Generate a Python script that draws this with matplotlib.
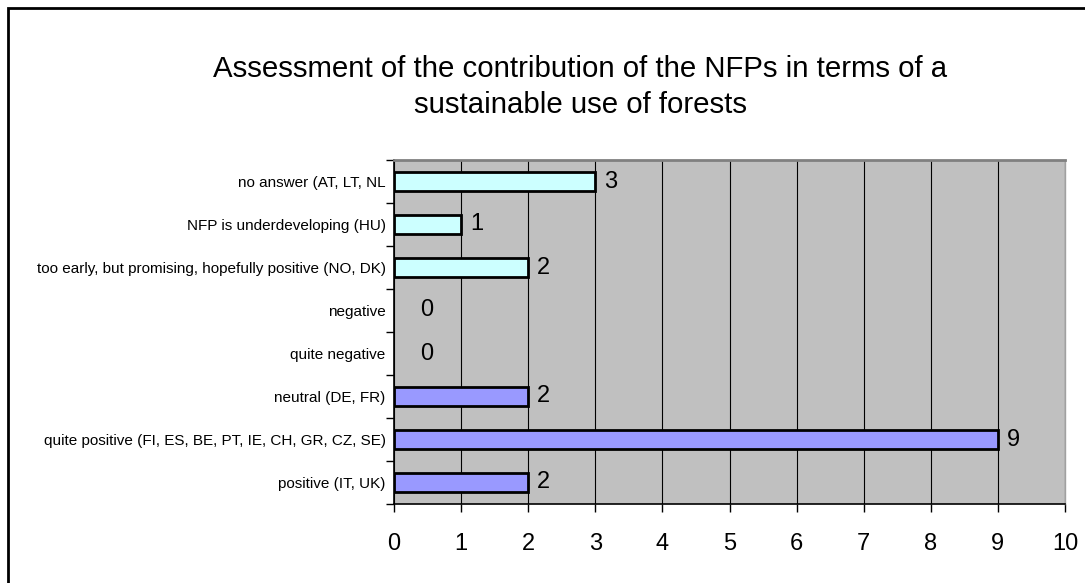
import matplotlib
matplotlib.use("Agg")
import matplotlib.pyplot as plt
from matplotlib.patches import Rectangle

plt.rcParams['font.family'] = ['Liberation Sans', 'DejaVu Sans']

categories = [
    "positive (IT, UK)",
    "quite positive (FI, ES, BE, PT, IE, CH, GR, CZ, SE)",
    "neutral (DE, FR)",
    "quite negative",
    "negative",
    "too early, but promising, hopefully positive (NO, DK)",
    "NFP is underdeveloping (HU)",
    "no answer (AT, LT, NL",
]
counts = [2, 9, 2, 0, 0, 2, 1, 3]
bar_colors = ["#9999FF", "#9999FF", "#9999FF", "#9999FF", "#9999FF",
              "#CCFFFF", "#CCFFFF", "#CCFFFF"]
x_ticks = list(range(0, 11))
title = "Assessment of the contribution of the NFPs in terms of a\nsustainable use of forests"

W, H = 1085, 583
fig = plt.figure(figsize=(W / 100, H / 100), dpi=100)
fig.patch.set_facecolor("white")

# outer chart frame
fig.add_artist(Rectangle((8 / W, -0.05), 1.2, 1 - 8 / H + 0.05,
                         transform=fig.transFigure, fill=False,
                         edgecolor="black", linewidth=2))

ax = fig.add_axes([394 / W, 79 / H, (1065 - 394) / W, (504 - 160) / H])
ax.set_facecolor("#C0C0C0")

ypos = list(range(len(categories)))
ax.barh(ypos, counts, height=0.42, color=bar_colors, edgecolor="black",
        linewidth=[2 if v else 0 for v in counts], zorder=3)

for y, v in zip(ypos, counts):
    off = 9 if v else 26
    ax.annotate(str(v), xy=(v, y), xytext=(off, 0), textcoords="offset pixels",
                ha="left", va="center", fontsize=17, zorder=4)

ax.set_xlim(0, 10)
ax.set_ylim(-0.5, len(categories) - 0.5)
ax.set_xticks(x_ticks)
ax.set_xticklabels([str(t) for t in x_ticks], fontsize=17)
ax.xaxis.grid(True, color="black", linewidth=0.8, zorder=1)
ax.set_axisbelow(True)

ax.set_yticks([y - 0.5 for y in ypos] + [len(categories) - 0.5], minor=False)
ax.set_yticklabels([])
ax.set_yticks(ypos, minor=True)
ax.set_yticklabels(categories, minor=True, fontsize=11)
ax.tick_params(axis="y", which="minor", length=0, pad=6)
ax.tick_params(axis="y", which="major", length=6, width=1, direction="out")
ax.tick_params(axis="x", length=6, width=1, direction="out", pad=15)

ax.spines["left"].set_color("black")
ax.spines["left"].set_linewidth(1.2)
ax.spines["bottom"].set_color("black")
ax.spines["bottom"].set_linewidth(1.2)
ax.spines["top"].set_color("#808080")
ax.spines["top"].set_linewidth(2)
ax.spines["right"].set_color("#A0A0A0")
ax.spines["right"].set_linewidth(1)

fig.text(580 / W, 1 - 87 / H, title, ha="center", va="center",
         fontsize=21.2, linespacing=1.4)

fig.savefig("out.png", dpi=100, facecolor="white")
